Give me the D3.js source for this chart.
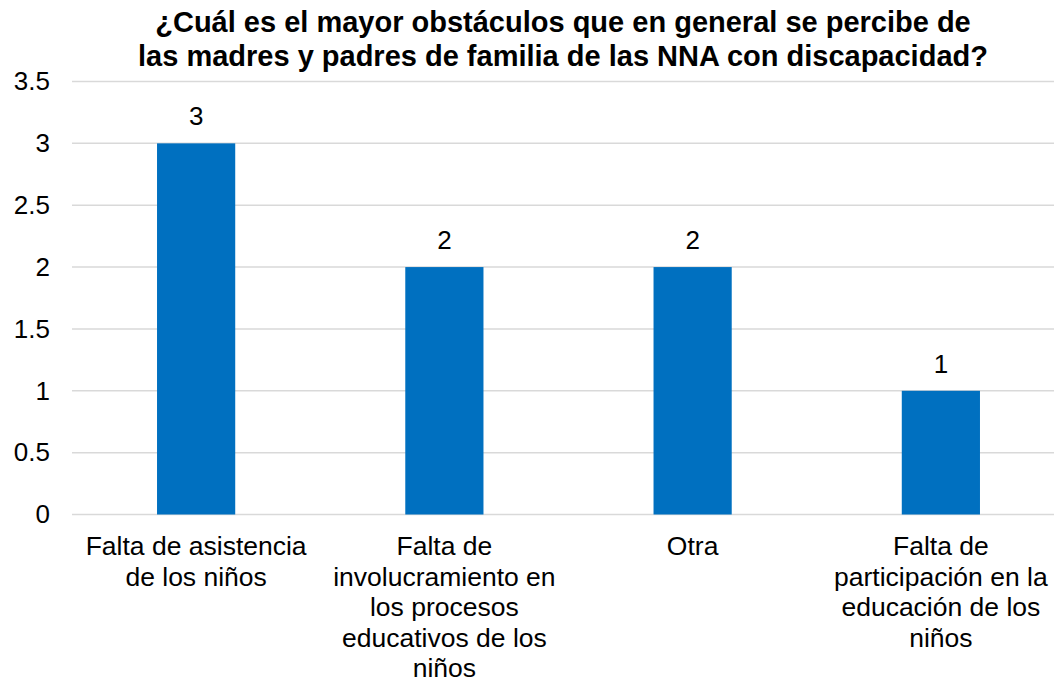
<!DOCTYPE html>
<html>
<head>
<meta charset="utf-8">
<script src="https://cdn.jsdelivr.net/npm/d3@7"></script>
<style>
  html, body { margin: 0; padding: 0; background: #fff; }
  svg { display: block; font-family: "Liberation Sans", Arial, sans-serif; }
</style>
</head>
<body>
<svg id="chart" width="1054" height="681"></svg>
<script>
// Survey responses: main obstacle perceived among parents
const categories = [
  ["Falta de asistencia", "de los niños"],
  ["Falta de", "involucramiento en", "los procesos", "educativos de los", "niños"],
  ["Otra"],
  ["Falta de", "participación en la", "educación de los", "niños"]
];
const values = [3, 2, 2, 1];
const yTicks = [0, 0.5, 1, 1.5, 2, 2.5, 3, 3.5];
const titleLines = [
  "¿Cuál es el mayor obstáculos que en general se percibe de",
  "las madres y padres de familia de las NNA con discapacidad?"
];

const svg = d3.select("#chart");
const W = 1054, H = 681;

const x = d3.scaleBand()
  .domain(d3.range(categories.length))
  .range([72, 1065])
  .paddingInner(0.685)
  .paddingOuter(0.3425);

const y = d3.scaleLinear().domain([0, 3.5]).range([514.5, 81.5]);

// Title
svg.append("g").selectAll("text")
  .data(titleLines)
  .join("text")
  .attr("x", 563)
  .attr("y", (d, i) => 32 + i * 34)
  .attr("text-anchor", "middle")
  .attr("font-size", 29)
  .attr("font-weight", "bold")
  .attr("fill", "#000")
  .text(d => d);

// Gridlines
svg.append("g").selectAll("line")
  .data(yTicks)
  .join("line")
  .attr("x1", 72).attr("x2", W)
  .attr("y1", d => y(d)).attr("y2", d => y(d))
  .attr("stroke", "#d9d9d9")
  .attr("stroke-width", 1.5);

// Y axis labels
const yAxis = d3.axisLeft(y).tickValues(yTicks).tickSize(0).tickPadding(0)
  .tickFormat(d => String(d));
const ya = svg.append("g").attr("transform", "translate(50,0)").call(yAxis);
ya.select(".domain").remove();
ya.selectAll("text").attr("font-size", 26).attr("fill", "#000")
  .attr("font-family", "Liberation Sans, Arial, sans-serif");

// Bars
svg.append("g").selectAll("rect")
  .data(values)
  .join("rect")
  .attr("x", (d, i) => x(i))
  .attr("width", x.bandwidth())
  .attr("y", d => y(d))
  .attr("height", d => y(0) - y(d))
  .attr("fill", "#0070c0");

// Value labels
svg.append("g").selectAll("text")
  .data(values)
  .join("text")
  .attr("x", (d, i) => x(i) + x.bandwidth() / 2)
  .attr("y", d => y(d) - 18)
  .attr("text-anchor", "middle")
  .attr("font-size", 26)
  .attr("fill", "#000")
  .text(d => d);

// Category labels
const cat = svg.append("g").selectAll("text")
  .data(categories)
  .join("text")
  .attr("text-anchor", "middle")
  .attr("font-size", 26.5)
  .attr("fill", "#000");
cat.each(function(lines, i) {
  d3.select(this).selectAll("tspan")
    .data(lines)
    .join("tspan")
    .attr("x", x(i) + x.bandwidth() / 2)
    .attr("y", (d, j) => 555 + j * 30.5)
    .text(d => d);
});
</script>
</body>
</html>
